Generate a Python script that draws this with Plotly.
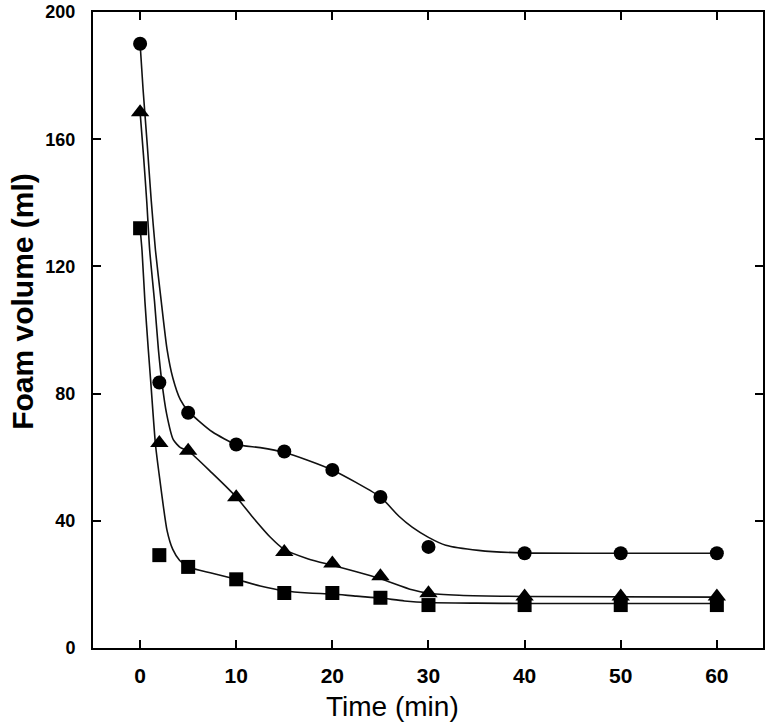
import plotly.graph_objects as go

# Measured data points
time_min = [0, 2, 5, 10, 15, 20, 25, 30, 40, 50, 60]
foam_circle = [190, 83.5, 74, 64, 61.8, 56, 47.5, 31.8, 29.8, 29.8, 29.8]
foam_triangle = [168.5, 64.5, 62, 47.4, 30.2, 26.6, 22.6, 17.2, 16.2, 16.2, 16.2]
foam_square = [132, 29.2, 25.5, 21.6, 17.3, 17.3, 15.8, 13.5, 13.5, 13.5, 13.5]

# Fitted curves
fit_circle_t = [0, 0.3, 0.75, 1.15, 1.6, 2.2, 2.8, 3.4, 4.2, 5, 7.5, 10, 12.5, 15, 17.5, 20, 22.5,
                25, 26.9, 28.3, 30, 31.8, 35.2, 39.7, 50, 60]
fit_circle_v = [190, 176, 158, 141, 125, 109, 94, 85, 78, 74.5, 68, 64, 63, 61.5, 59, 56, 52,
                47.5, 41.5, 38, 34.8, 32.3, 30.7, 29.9, 29.8, 29.8]
fit_triangle_t = [0, 0.35, 0.7, 1.0, 1.5, 1.9, 2.25, 2.76, 3.45, 4.2, 5, 7.5, 10, 11.7, 13.5, 15,
                  17.5, 20, 22.5, 25, 28.3, 30, 33.2, 40, 60]
fit_triangle_v = [168.5, 155, 140, 125, 109, 94, 84, 73.6, 65.5, 63, 62, 55, 47.5, 41.2, 35, 31,
                  28, 26, 24, 21.8, 18.3, 17.2, 16.6, 16.2, 16.0]
fit_square_t = [0, 0.2, 0.5, 0.85, 1.1, 1.6, 2.05, 2.8, 3.4, 4.1, 5, 7.5, 10, 12.5, 15, 17.5, 20,
                22.5, 25, 27.5, 30, 35, 40, 60]
fit_square_v = [132, 125, 109, 94, 84, 64, 53, 37, 31, 27.6, 25.5, 23.5, 21.6, 19.5, 18, 17.3, 17,
                16.3, 15.7, 14.8, 14.3, 14.1, 14.0, 14.0]

x_ticks = [0, 10, 20, 30, 40, 50, 60]
y_ticks = [0, 40, 80, 120, 160, 200]

FONT = "Arial, Liberation Sans, sans-serif"

fig = go.Figure()
for t, v in [(fit_circle_t, fit_circle_v), (fit_triangle_t, fit_triangle_v), (fit_square_t, fit_square_v)]:
    fig.add_trace(go.Scatter(x=t, y=v, mode="lines",
                             line=dict(color="#111111", width=1.6, shape="spline", smoothing=0.6),
                             showlegend=False, hoverinfo="skip"))

for vals, sym, size in [(foam_circle, "circle", 14), (foam_triangle, "triangle-up", 16), (foam_square, "square", 14)]:
    fig.add_trace(go.Scatter(x=time_min, y=vals, mode="markers",
                             marker=dict(symbol=sym, size=size, color="black", line=dict(width=0)),
                             showlegend=False))

axis_common = dict(showline=True, linecolor="black", linewidth=2, mirror="ticks",
                   ticks="inside", ticklen=8, tickwidth=1.5, tickcolor="black",
                   showgrid=False, zeroline=False, ticklabeloverflow="allow")

fig.update_xaxes(range=[-4.9, 64.8], tickvals=x_ticks, ticktext=[str(v) for v in x_ticks],
                 tickfont=dict(family=FONT, size=21, color="black", weight="bold"),
                 ticklabelstandoff=8, **axis_common)
fig.update_yaxes(range=[0, 200], tickvals=y_ticks, ticktext=[str(v) for v in y_ticks],
                 tickfont=dict(family=FONT, size=18, color="black", weight="bold"),
                 ticklabelstandoff=12, **axis_common)

fig.add_annotation(text="Foam volume (ml)", xref="paper", yref="paper",
                   x=(22 - 93) / 672, y=(648 - 300) / 639, textangle=-90,
                   xanchor="center", yanchor="middle", showarrow=False,
                   font=dict(family=FONT, size=30, color="black", weight="bold"))
fig.add_annotation(text="Time (min)", xref="paper", yref="paper",
                   x=(393 - 93) / 672, y=(648 - 707) / 639,
                   xanchor="center", yanchor="middle", showarrow=False,
                   font=dict(family=FONT, size=28, color="black"))

fig.update_layout(width=767, height=725, margin=dict(l=93, r=2, t=9, b=77),
                  plot_bgcolor="white", paper_bgcolor="white")

fig.write_html("out.html", config={"displayModeBar": False},
               post_script="document.body.style.margin='0';document.body.style.overflow='hidden';")
